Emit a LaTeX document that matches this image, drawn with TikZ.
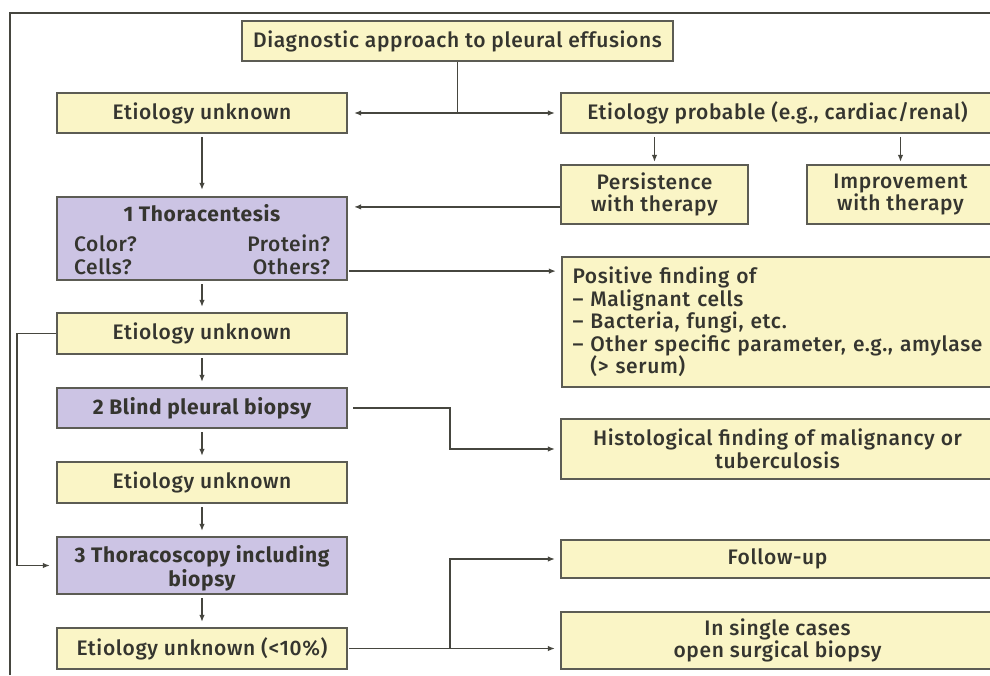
\documentclass[tikz,border=0pt]{standalone}
\usepackage{fontspec}
\IfFontExistsTF{Fira Sans Medium}
  {\setmainfont{Fira Sans Medium}[LetterSpace=3]}
  {\setmainfont{Fira Sans}[LetterSpace=3]}
\newfontfamily\headfont{Fira Sans}[LetterSpace=3]
\usetikzlibrary{arrows.meta,calc}
\definecolor{boxyellow}{HTML}{FAF5C6}
\definecolor{boxpurple}{HTML}{CCC4E4}
\definecolor{bordercol}{HTML}{5C5C54}
\definecolor{linecol}{HTML}{46463F}
\definecolor{textcol}{HTML}{35352F}
\tikzset{
  basebox/.style={draw=bordercol, line width=2.2pt, inner sep=0pt, align=center,
    text=textcol, font=\fontsize{21}{22.5}\selectfont},
  ybox/.style={basebox, fill=boxyellow},
  pbox/.style={basebox, fill=boxpurple, font=\fontsize{21}{22.5}\selectfont\headfont\bfseries},
  conn/.style={draw=linecol, line width=1.8pt},
  arr/.style={conn, -{Latex[length=7pt,width=5.5pt]}},
  framel/.style={draw=linecol, line width=2pt}
}
\begin{document}
\begin{tikzpicture}[x=1pt,y=-1pt]
\useasboundingbox (0,0) rectangle (990,675);
\fill[white] (0,0) rectangle (990,675);
\draw[framel] (10,675) -- (10,13) -- (990,13);

% left column
\node[ybox, minimum width=431, minimum height=40] (title) at (457.5,41) {Diagnostic approach to pleural effusions};
\node[ybox, minimum width=290, minimum height=40] (eu1) at (202,113) {Etiology unknown};
\node[pbox, minimum width=290, minimum height=83] (thor) at (202,238.5)
  {\raisebox{-4pt}[\height][\depth]{\begin{tabular*}{256pt}{@{}l@{\extracolsep{\fill}}r@{}}
   \multicolumn{2}{c}{1 Thoracentesis}\\[7pt]
   \normalfont Color? & \normalfont Protein?\\
   \normalfont Cells? & \normalfont Others?
   \end{tabular*}}};
\node[ybox, minimum width=290, minimum height=41] (eu2) at (202,333.5) {Etiology unknown};
\node[pbox, minimum width=290, minimum height=40] (blind) at (202,408) {2 Blind pleural biopsy};
\node[ybox, minimum width=290, minimum height=41] (eu3) at (202,482.5) {Etiology unknown};
\node[pbox, minimum width=290, minimum height=57] (thsc) at (202,565.5)
  {\raisebox{-4pt}[\height][\depth]{\begin{tabular}{@{}c@{}}3 Thoracoscopy including\\biopsy\end{tabular}}};
\node[ybox, minimum width=290, minimum height=41] (eu4) at (202,648.5) {Etiology unknown (<10\%)};

% right column
\node[ybox, minimum width=433, minimum height=40] (ep) at (777.5,113) {Etiology probable (e.g., cardiac/renal)};
\node[ybox, minimum width=187, minimum height=59] (pers) at (654.5,194.5) {Persistence\\with therapy};
\node[ybox, minimum width=187, minimum height=59] (impr) at (900.5,194.5) {Improvement\\with therapy};
\node[ybox, minimum width=433, minimum height=130, text width=412, align=left] (pos) at (778.5,322)
  {Positive finding of\\
   – Malignant cells\\
   – Bacteria, fungi, etc.\\
   – Other specific parameter, e.g., amylase\\
   \phantom{– }(> serum)};
\node[ybox, minimum width=433, minimum height=60] (hist) at (777.5,449) {Histological finding of malignancy or\\tuberculosis};
\node[ybox, minimum width=433, minimum height=38] (foll) at (777.5,559) {Follow-up};
\node[ybox, minimum width=433, minimum height=57] (single) at (777.5,640.5) {In single cases\\open surgical biopsy};

% connectors from title
\coordinate (split) at (title.south |- eu1.east);
\draw[conn] (title.south) -- (split);
\draw[arr, shorten >=6pt] (split) -- (eu1.east);
\draw[arr, shorten >=5pt] (split) -- (ep.west);

% etiology probable branches
\draw[arr, shorten <=3pt, shorten >=2pt] (ep.south -| pers.north) -- (pers.north);
\draw[arr, shorten <=3pt, shorten >=2pt] (ep.south -| impr.north) -- (impr.north);

% persistence back to thoracentesis
\coordinate (thin) at ([yshift=-11pt]thor.north east);
\draw[arr, shorten >=6pt] (thin -| pers.west) -- (thin);

% thoracentesis to positive finding
\coordinate (thout) at ([yshift=10pt]thor.south east);
\draw[arr, shorten <=1pt, shorten >=5pt] (thout) -- (thout -| pos.west);

% vertical chain
\draw[arr, shorten <=3pt, shorten >=6pt] (eu1.south) -- (thor.north);
\draw[arr, shorten <=3pt, shorten >=5pt] (thor.south) -- (eu2.north);
\draw[arr, shorten <=3pt, shorten >=5pt] (eu2.south) -- (blind.north);
\draw[arr, shorten <=3pt, shorten >=5pt] (blind.south) -- (eu3.north);
\draw[arr, shorten <=3pt, shorten >=5pt] (eu3.south) -- (thsc.north);
\draw[arr, shorten <=3pt, shorten >=5pt] (thsc.south) -- (eu4.north);

% bypass loop
\draw[arr, shorten >=6pt] (eu2.west) -- ++(-39,0) |- (thsc.west);

% blind biopsy to histology
\draw[arr, shorten <=5pt, shorten >=5pt] (blind.east) -- ++(102,0) |- (hist.west);

% last step
\coordinate (lastsplit) at ([xshift=102pt]eu4.east);
\draw[arr, shorten <=1pt, shorten >=5pt] (eu4.east) -- (eu4.east -| single.west);
\draw[arr, shorten >=5pt] (lastsplit) |- (foll.west);
\end{tikzpicture}
\end{document}
